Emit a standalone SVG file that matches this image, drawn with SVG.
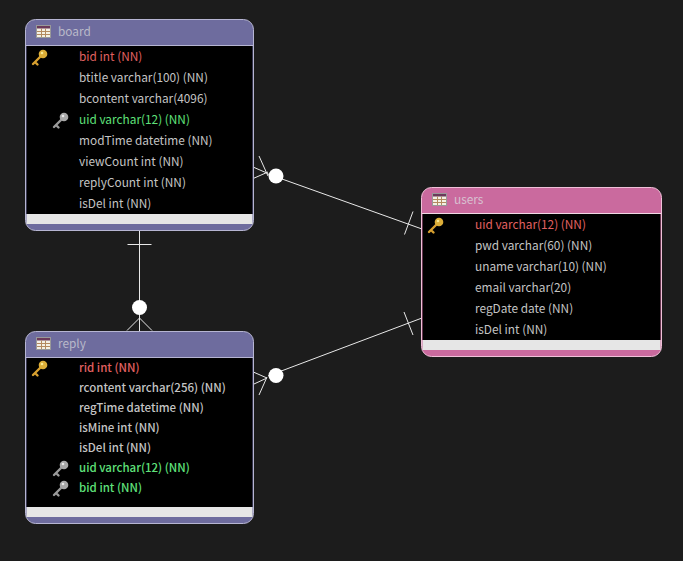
<svg xmlns="http://www.w3.org/2000/svg" width="683" height="561" viewBox="0 0 683 561">
<style>
text{font-family:"Noto Sans CJK KR","Noto Sans",sans-serif;font-size:11.850px;fill:#c4c4c4}
.t{fill:#b9b9c9}
.pk{fill:#e06060}
.fk{fill:#5fe07a}
.b{font-weight:500;font-size:11.500px}
.c{fill:none;stroke:#e8e8e8;stroke-width:1}
.o{fill:#fff;stroke:none}
.ks{stroke-width:2.400;stroke-linecap:round;fill:none}
</style>
<defs>
<g id="tbl"><rect x="0.500" y="0.500" width="14" height="12" fill="#f4f0e4" stroke="#999"/><rect x="1" y="1" width="13" height="2.500" fill="#6b3a5a"/><path d="M1 6.500H14M1 9.500H14M5.500 3.500V12M9.500 3.500V12" stroke="#b48a60" stroke-width="1" fill="none"/></g>
<g id="pkey"><path class="ks" d="M1 15L10 6M3.500 13.500l2 2" stroke="#d8a030"/><circle cx="11" cy="5" r="4.300" fill="#dcae38"/><circle cx="10" cy="4" r="1.300" fill="#f8e890"/></g>
<g id="fkey"><path class="ks" d="M1 15L10 6M3.500 13.500l2 2" stroke="#9a9a9a"/><circle cx="11" cy="5" r="4.300" fill="#a8a8a8"/><circle cx="10" cy="4" r="1.300" fill="#e8e8e8"/></g>
</defs>
<rect width="683" height="561" fill="#1c1c1c"/>

<g id="connectors">
<path class="c" d="M139.500 231V332M127.500 244.500H151.500M139.500 318L127 330.500M139.500 318L152 330.500"/>
<circle class="o" cx="139.500" cy="307.500" r="7.500"/>
<path class="c" d="M253 167L268 173.500M252 179L268 172M259 156L268 176M268 174L422 229M404.500 234.500L413 211.500"/>
<circle class="o" cx="276" cy="176" r="7.500"/>
<path class="c" d="M251 371L267 378M254 384L267 378M259 395L267 377M268 376L422 318M404 312L413 335"/>
<circle class="o" cx="276" cy="375.500" r="7.500"/>
</g>

<g id="board">
<rect x="25.500" y="19.500" width="228" height="211" rx="10" fill="#6e6c9e" stroke="#b6b5d2"/>
<rect x="26" y="45" width="227" height="1" fill="#b6b5d2"/>
<rect x="26.500" y="46" width="226" height="168" fill="#000"/>
<rect x="26.500" y="214" width="226" height="10" fill="#e6e6e6"/>
<use href="#tbl" x="36" y="25"/>
<text class="t" x="58" y="36">board</text>
<use href="#pkey" x="32" y="49"/>
<use href="#fkey" x="53" y="112"/>
<text class="pk" x="79" y="61">bid int (NN)</text>
<text x="79" y="82">btitle varchar(100) (NN)</text>
<text x="79" y="103">bcontent varchar(4096)</text>
<text class="fk" x="79" y="124">uid varchar(12) (NN)</text>
<text x="79" y="145">modTime datetime (NN)</text>
<text x="79" y="166">viewCount int (NN)</text>
<text x="79" y="187">replyCount int (NN)</text>
<text x="79" y="208">isDel int (NN)</text>
</g>

<g id="reply">
<rect x="25.500" y="331.500" width="228" height="192" rx="10" fill="#6e6c9e" stroke="#b6b5d2"/>
<rect x="26" y="357" width="227" height="1" fill="#b6b5d2"/>
<rect x="26.500" y="358" width="226" height="149" fill="#000"/>
<rect x="26.500" y="507" width="226" height="10" fill="#e6e6e6"/>
<use href="#tbl" x="36" y="337"/>
<text class="t" x="58" y="348">reply</text>
<use href="#pkey" x="32" y="360"/>
<use href="#fkey" x="53" y="460"/>
<use href="#fkey" x="53" y="480"/>
<text class="pk b" x="79" y="372">rid int (NN)</text>
<text class="b" x="79" y="392">rcontent varchar(256) (NN)</text>
<text class="b" x="79" y="412">regTime datetime (NN)</text>
<text class="b" x="79" y="432">isMine int (NN)</text>
<text class="b" x="79" y="452">isDel int (NN)</text>
<text class="fk b" x="79" y="472">uid varchar(12) (NN)</text>
<text class="fk b" x="79" y="492">bid int (NN)</text>
</g>

<g id="users">
<rect x="421.500" y="187.500" width="240" height="169" rx="10" fill="#ca6a9e" stroke="#f0c0d8"/>
<rect x="422" y="213" width="239" height="1" fill="#f0d8e4"/>
<rect x="422.500" y="214" width="238" height="126" fill="#000"/>
<rect x="422.500" y="340" width="238" height="10" fill="#e6e6e6"/>
<use href="#tbl" x="432" y="193"/>
<text class="t" x="454" y="204" style="fill:#d8c0d0">users</text>
<use href="#pkey" x="428" y="217"/>
<text class="pk" x="475" y="229">uid varchar(12) (NN)</text>
<text x="475" y="250">pwd varchar(60) (NN)</text>
<text x="475" y="271">uname varchar(10) (NN)</text>
<text x="475" y="292">email varchar(20)</text>
<text x="475" y="313">regDate date (NN)</text>
<text x="475" y="334">isDel int (NN)</text>
</g>
</svg>
